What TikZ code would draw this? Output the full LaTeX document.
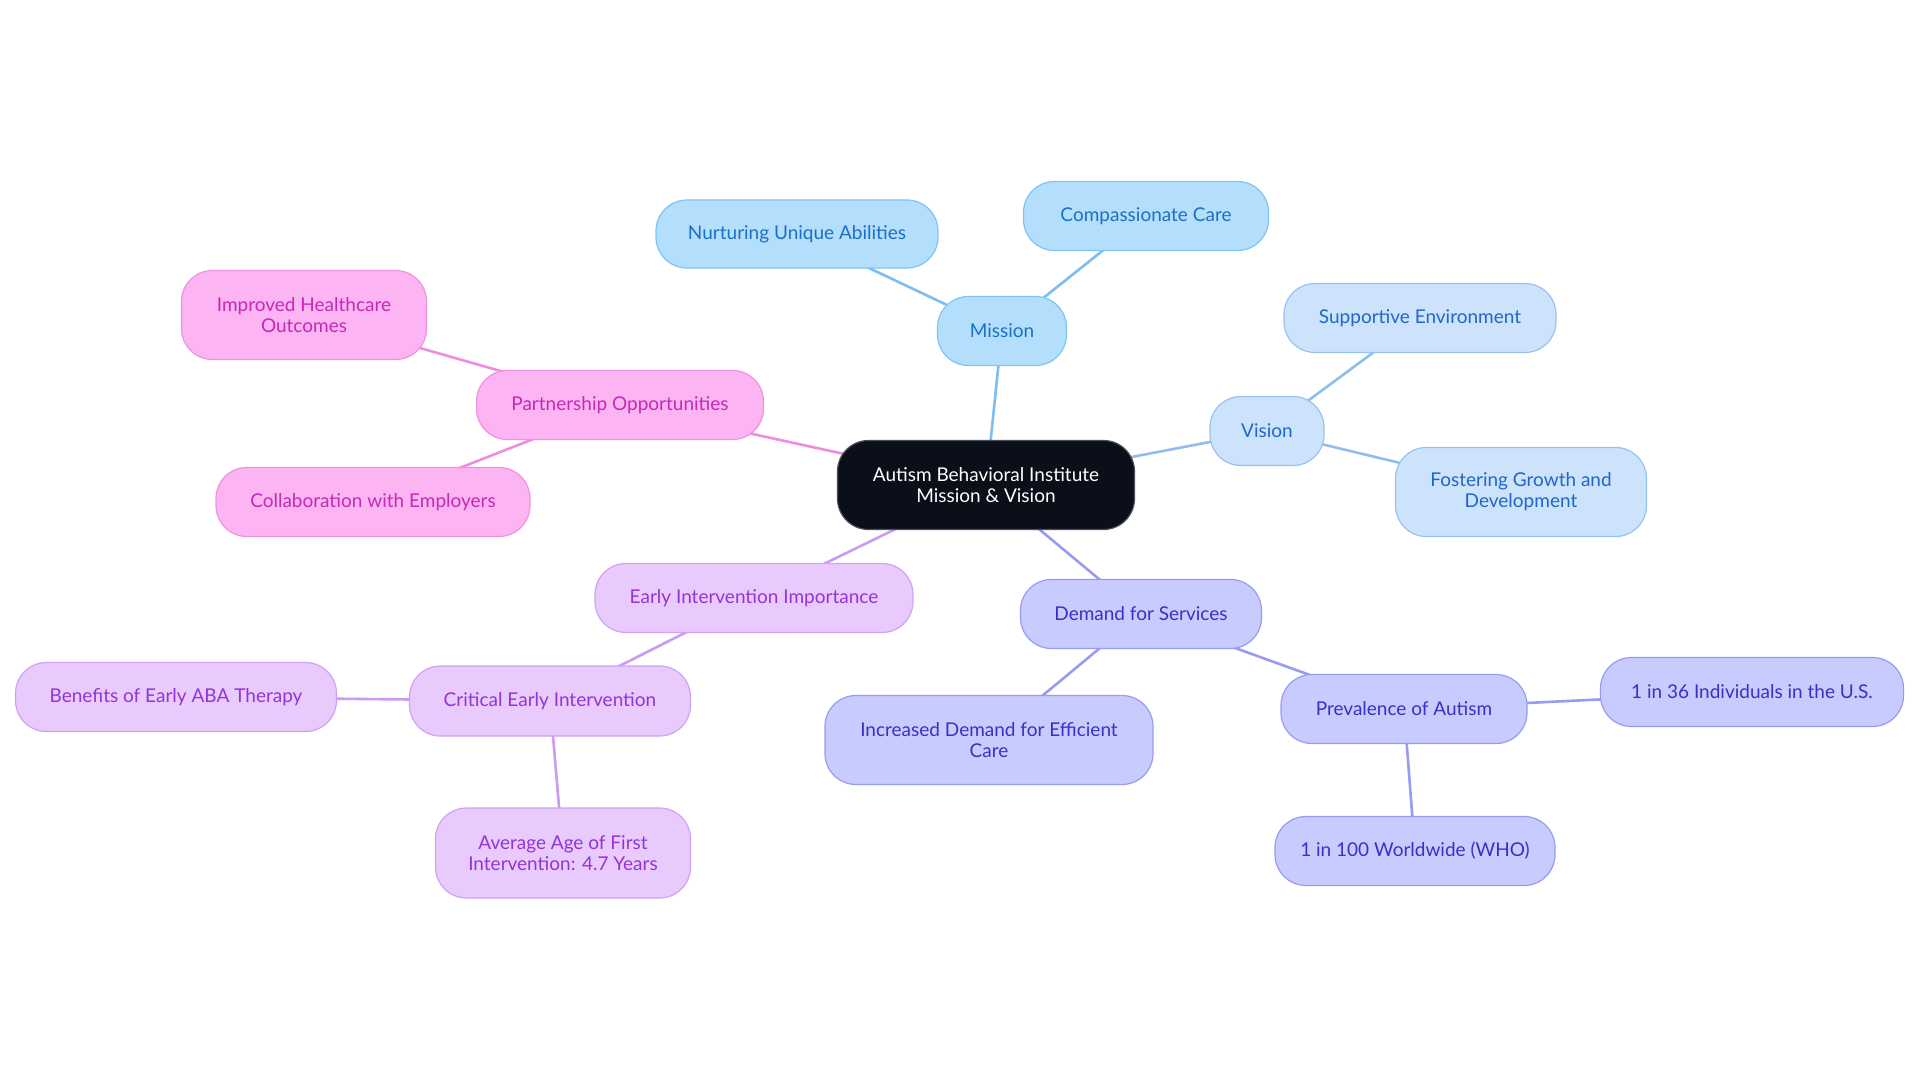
\documentclass[tikz,border=0pt]{standalone}
\usepackage{fontspec}
\setmainfont{Lato}
\usetikzlibrary{backgrounds}
\definecolor{cfill}{HTML}{0B0F19}
\definecolor{cline}{HTML}{4A4F5A}
\definecolor{mfill}{HTML}{B3DFFD}
\definecolor{mdraw}{HTML}{80C4F4}
\definecolor{mtext}{HTML}{1B70C6}
\definecolor{medge}{HTML}{7CBEF1}
\definecolor{vfill}{HTML}{CCE3FB}
\definecolor{vdraw}{HTML}{98C3F1}
\definecolor{vtext}{HTML}{1F67C9}
\definecolor{vedge}{HTML}{90BDED}
\definecolor{dfill}{HTML}{C8CBFD}
\definecolor{ddraw}{HTML}{979CF3}
\definecolor{dtext}{HTML}{3532C7}
\definecolor{dedge}{HTML}{989BF1}
\definecolor{efill}{HTML}{E8CAFC}
\definecolor{edraw}{HTML}{D0A2F5}
\definecolor{etext}{HTML}{9334D8}
\definecolor{eedge}{HTML}{C99BF3}
\definecolor{pfill}{HTML}{FCB4F3}
\definecolor{pdraw}{HTML}{F192E1}
\definecolor{ptext}{HTML}{C628B8}
\definecolor{pedge}{HTML}{F08CDF}
\tikzset{
  x=1pt, y=-1pt,
  box/.style={rectangle, rounded corners=31pt, line width=1.2pt, align=center,
    inner sep=0pt, font=\fontsize{19}{21}\selectfont},
  cbox/.style={box, fill=cfill, draw=cline, text=white},
  mbox/.style={box, fill=mfill, draw=mdraw, text=mtext},
  vbox/.style={box, fill=vfill, draw=vdraw, text=vtext},
  dbox/.style={box, fill=dfill, draw=ddraw, text=dtext},
  ebox/.style={box, fill=efill, draw=edraw, text=etext},
  pbox/.style={box, fill=pfill, draw=pdraw, text=ptext},
  link/.style={line width=2.6pt},
}
\begin{document}
\begin{tikzpicture}
\useasboundingbox (0,0) rectangle (1920,1083);
% nodes
\node[cbox, minimum width=297pt, minimum height=89pt] (c) at (986,485) {Autism Behavioral Institute\\Mission \& Vision};
\node[mbox, minimum width=129pt, minimum height=69pt] (mis) at (1002,331) {Mission};
\node[mbox, minimum width=282pt, minimum height=68pt] (nur) at (797,234) {Nurturing Unique Abilities};
\node[mbox, minimum width=245pt, minimum height=69pt] (com) at (1146,216) {Compassionate Care};
\node[vbox, minimum width=114pt, minimum height=69pt] (vis) at (1267,431) {Vision};
\node[vbox, minimum width=272pt, minimum height=69pt] (sup) at (1420,318) {Supportive Environment};
\node[vbox, minimum width=251pt, minimum height=89pt] (fos) at (1521,492) {Fostering Growth and\\Development};
\node[pbox, minimum width=287pt, minimum height=69pt] (par) at (620,405) {Partnership Opportunities};
\node[pbox, minimum width=245pt, minimum height=89pt] (imp) at (304,315) {Improved Healthcare\\Outcomes};
\node[pbox, minimum width=314pt, minimum height=69pt] (col) at (373,502) {Collaboration with Employers};
\node[ebox, minimum width=318pt, minimum height=69pt] (eii) at (754,598) {Early Intervention Importance};
\node[ebox, minimum width=281pt, minimum height=70pt] (cri) at (550,701) {Critical Early Intervention};
\node[ebox, minimum width=321pt, minimum height=69pt] (ben) at (176,697) {Benefits of Early ABA Therapy};
\node[ebox, minimum width=255pt, minimum height=90pt] (avg) at (563,853) {Average Age of First\\Intervention: 4.7 Years};
\node[dbox, minimum width=241pt, minimum height=69pt] (dem) at (1141,614) {Demand for Services};
\node[dbox, minimum width=328pt, minimum height=89pt] (inc) at (989,740) {Increased Demand for Efficient\\Care};
\node[dbox, minimum width=246pt, minimum height=69pt] (pre) at (1404,709) {Prevalence of Autism};
\node[dbox, minimum width=303pt, minimum height=69pt] (us) at (1752,692) {1 in 36 Individuals in the U.S.};
\node[dbox, minimum width=280pt, minimum height=69pt] (who) at (1415,851) {1 in 100 Worldwide (WHO)};
% connectors
\begin{scope}[on background layer]
\fill[white] (0,0) rectangle (1920,1083);
\draw[link, medge] (c.center) -- (mis.center);
\draw[link, medge] (mis.center) -- (nur.center);
\draw[link, medge] (mis.center) -- (com.center);
\draw[link, vedge] (c.center) -- (vis.center);
\draw[link, vedge] (vis.center) -- (sup.center);
\draw[link, vedge] (vis.center) -- (fos.center);
\draw[link, pedge] (c.center) -- (par.center);
\draw[link, pedge] (par.center) -- (imp.center);
\draw[link, pedge] (par.center) -- (col.center);
\draw[link, eedge] (c.center) -- (eii.center);
\draw[link, eedge] (eii.center) -- (cri.center);
\draw[link, eedge] (cri.center) -- (ben.center);
\draw[link, eedge] (cri.center) -- (avg.center);
\draw[link, dedge] (c.center) -- (dem.center);
\draw[link, dedge] (dem.center) -- (inc.center);
\draw[link, dedge] (dem.center) -- (pre.center);
\draw[link, dedge] (pre.center) -- (us.center);
\draw[link, dedge] (pre.center) -- (who.center);
\end{scope}
\end{tikzpicture}
\end{document}
